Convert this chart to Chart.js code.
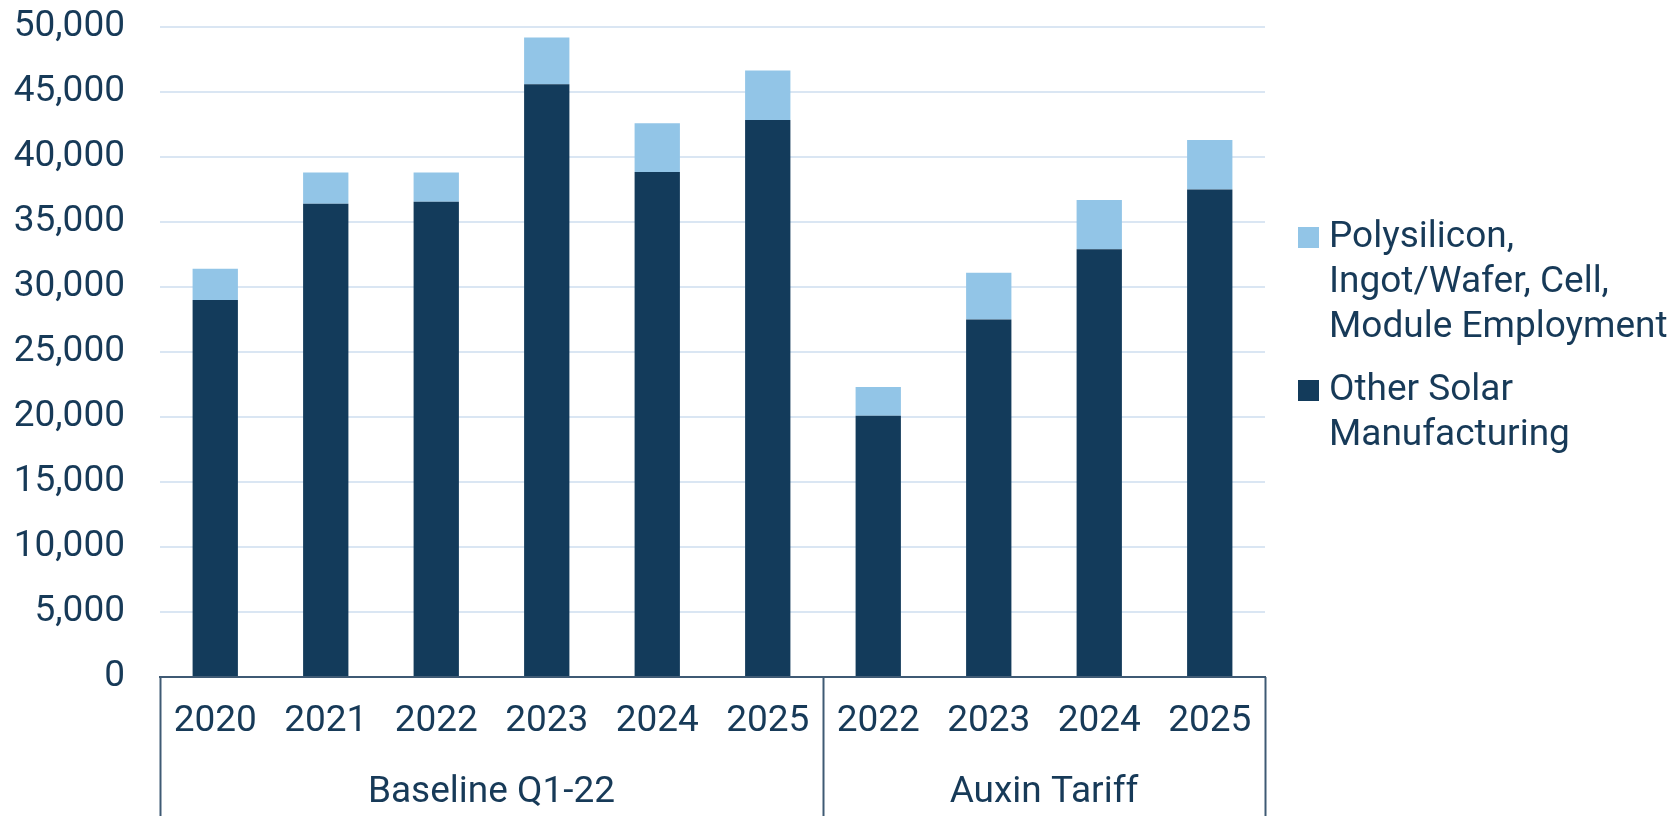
<!DOCTYPE html>
<html>
<head>
<meta charset="utf-8">
<script src="https://cdn.jsdelivr.net/npm/chart.js@4.4.1/dist/chart.umd.min.js"></script>
<style>
    html, body { margin: 0; padding: 0; background: #fff; }
    #wrap { width: 1673px; height: 816px; }
</style>
</head>
<body>
<div id="wrap"><canvas id="empleoChart" width="1673" height="816"></canvas></div>
<script>
// Data
const years = ['2020', '2021', '2022', '2023', '2024', '2025', '2022', '2023', '2024', '2025'];
const groupNames = ['Baseline Q1-22', 'Auxin Tariff'];
const groupSizes = [6, 4];
const otherSolar = [29000, 36400, 36550, 45600, 38850, 42850, 20100, 27500, 32900, 37500];
const polysilicon = [2400, 2400, 2250, 3600, 3750, 3800, 2200, 3600, 3800, 3800];
const polyLabel = ['Polysilicon,', 'Ingot/Wafer, Cell,', 'Module Employment'];
const otherLabel = ['Other Solar', 'Manufacturing'];
const yMax = 50000;
const yStep = 5000;

const NAVY = '#133B5B';
const LIGHT = '#92C5E7';
const TEXT = '#173A58';
const FONT = 'Roboto, "Noto Sans", sans-serif';

// Group boxes under the year labels
const groupAxisPlugin = {
    id: 'groupAxis',
    afterDraw(chart) {
        const { ctx, chartArea, scales } = chart;
        const x = scales.x;
        const w = (x.right - x.left) / years.length;
        const bottom = chart.height;
        ctx.save();
        ctx.strokeStyle = '#3F5A74';
        ctx.lineWidth = 2;
        let start = 0;
        const edges = [0];
        groupSizes.forEach(n => { start += n; edges.push(start); });
        edges.forEach(i => {
            const px = Math.round(x.left + i * w) + 0.5;
            ctx.beginPath();
            ctx.moveTo(px, chartArea.bottom);
            ctx.lineTo(px, bottom);
            ctx.stroke();
        });
        ctx.fillStyle = TEXT;
        ctx.font = '37px ' + FONT;
        ctx.textAlign = 'center';
        ctx.textBaseline = 'middle';
        groupNames.forEach((name, g) => {
            const cx = x.left + (edges[g] + edges[g + 1]) / 2 * w;
            ctx.fillText(name, cx, 793);
        });
        ctx.restore();
    }
};

// Legend on the right with wrapped labels
const sideLegendPlugin = {
    id: 'sideLegend',
    afterDraw(chart) {
        const { ctx } = chart;
        const items = [
            { color: chart.data.datasets[1].backgroundColor, lines: polyLabel, y: 247 },
            { color: chart.data.datasets[0].backgroundColor, lines: otherLabel, y: 400 }
        ];
        ctx.save();
        ctx.font = '37px ' + FONT;
        ctx.textAlign = 'left';
        ctx.textBaseline = 'alphabetic';
        items.forEach(item => {
            ctx.fillStyle = item.color;
            ctx.fillRect(1298, item.y - 20, 21, 21);
            ctx.fillStyle = TEXT;
            item.lines.forEach((line, i) => {
                ctx.fillText(line, 1329, item.y + i * 45);
            });
        });
        ctx.restore();
    }
};

const ctx = document.getElementById('empleoChart').getContext('2d');
new Chart(ctx, {
    type: 'bar',
    data: {
        labels: years,
        datasets: [
            {
                label: otherLabel.join(' '),
                data: otherSolar,
                backgroundColor: NAVY,
                categoryPercentage: 1,
                barPercentage: 0.41
            },
            {
                label: polyLabel.join(' '),
                data: polysilicon,
                backgroundColor: LIGHT,
                categoryPercentage: 1,
                barPercentage: 0.41
            }
        ]
    },
    options: {
        responsive: false,
        animation: false,
        layout: { padding: { top: 27, right: 408, left: 0, bottom: 0 } },
        plugins: {
            legend: { display: false },
            tooltip: { enabled: false }
        },
        scales: {
            x: {
                stacked: true,
                grid: { display: false, drawTicks: false },
                border: { display: true, color: '#3F5A74', width: 2 },
                ticks: {
                    color: TEXT,
                    font: { family: FONT, size: 37 },
                    padding: 23,
                    maxRotation: 0,
                    autoSkip: false
                },
                afterFit(scale) { scale.height = 139; }
            },
            y: {
                stacked: true,
                min: 0,
                max: yMax,
                grid: { color: '#DAE6F3', lineWidth: 2, drawTicks: false },
                border: { display: false },
                ticks: {
                    stepSize: yStep,
                    color: TEXT,
                    font: { family: FONT, size: 37 },
                    padding: 35,
                    callback: v => v.toLocaleString('en-US')
                },
                afterFit(scale) {
                    scale.width = 160;
                    scale.paddingTop = 0;
                    scale.paddingBottom = 0;
                }
            }
        }
    },
    plugins: [groupAxisPlugin, sideLegendPlugin]
});
</script>
</body>
</html>
